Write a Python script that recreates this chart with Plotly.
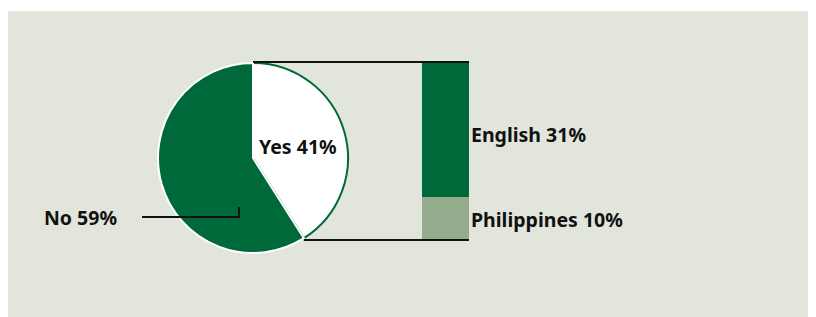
import math
import plotly.graph_objects as go

# Data
pie_labels = ["Yes", "No"]
pie_values = [41, 59]
bar_labels = ["Philippines", "English"]
bar_values = [10, 31]

W, H = 824, 317
OFF = 8  # page body margin
DARK = "#00693A"
LIGHT = "#94AB8C"
BG = "#E2E5DC"
FONT = "Noto Sans"


def px(x):
    return (x - OFF) / W


def py(y):
    return 1 - (y - OFF) / H


# pie geometry (window pixels)
cx, cy, r = 253, 158, 95
# bar geometry (window pixels)
bx0, bx1, by_top, by_bot = 422, 469, 62, 240

fig = go.Figure()

fig.add_trace(go.Pie(
    labels=pie_labels, values=pie_values, sort=False, direction="clockwise",
    rotation=0, textinfo="none", hoverinfo="label+percent",
    marker=dict(colors=["#FFFFFF", DARK], line=dict(color=[DARK, "#FFFFFF"], width=2)),
    domain=dict(x=[px(cx - r), px(cx + r)], y=[py(cy + r), py(cy - r)]),
    showlegend=False,
))

for lab, val, col in zip(bar_labels, bar_values, [LIGHT, DARK]):
    fig.add_trace(go.Bar(
        x=[0], y=[val], name=lab, marker=dict(color=col, line=dict(width=0)),
        width=1, showlegend=False, xaxis="x", yaxis="y",
    ))

total_bar = sum(bar_values)
fig.update_layout(
    width=W, height=H, margin=dict(l=0, r=0, t=0, b=0),
    paper_bgcolor="white", plot_bgcolor="rgba(0,0,0,0)",
    barmode="stack", bargap=0,
    xaxis=dict(domain=[px(bx0), px(bx1)], range=[-0.5, 0.5], visible=False, fixedrange=True),
    yaxis=dict(domain=[py(by_bot), py(by_top)], range=[0, total_bar], visible=False, fixedrange=True),
    font=dict(family=FONT, color="#111111"),
)

# Yes slice end point
yes_frac = pie_values[0] / sum(pie_values)
ang = 2 * math.pi * yes_frac
ex = cx + r * math.sin(ang)
ey = cy - r * math.cos(ang)

shapes = [
    dict(type="rect", xref="paper", yref="paper", x0=0, x1=1, y0=0, y1=py(11),
         fillcolor=BG, line=dict(width=0), layer="below"),
    dict(type="line", xref="paper", yref="paper", x0=px(cx), x1=px(bx1), y0=py(by_top), y1=py(by_top),
         line=dict(color="#111111", width=2)),
    dict(type="line", xref="paper", yref="paper", x0=px(ex), x1=px(bx1), y0=py(by_bot), y1=py(by_bot),
         line=dict(color="#111111", width=2)),
    dict(type="path", xref="paper", yref="paper",
         path=f"M {px(142)},{py(217)} L {px(239)},{py(217)} L {px(239)},{py(207)}",
         line=dict(color="#111111", width=2)),
]
fig.update_layout(shapes=shapes)

fsize = 19.5
ann = [
    dict(text=f"<b>{pie_labels[0]} {pie_values[0]}%</b>", xref="paper", yref="paper",
         x=px(298), y=py(146), showarrow=False, font=dict(size=fsize)),
    dict(text=f"<b>{pie_labels[1]} {pie_values[1]}%</b>", xref="paper", yref="paper",
         x=px(119), y=py(217), xanchor="right", showarrow=False, font=dict(size=fsize)),
]
base = 0
for lab, val in zip(bar_labels, bar_values):
    ann.append(dict(text=f"<b>{lab} {val}%</b>", xref="x domain", yref="y",
                    x=1, y=base + val / 2, xanchor="left", xshift=0,
                    yshift=-5 if lab == "English" else -1,
                    showarrow=False, font=dict(size=fsize)))
    base += val
fig.update_layout(annotations=ann)

fig.write_html("out.html")
